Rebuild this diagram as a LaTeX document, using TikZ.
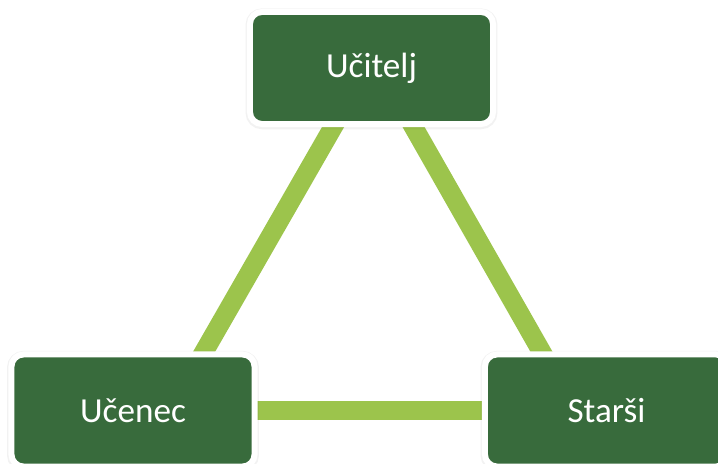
\documentclass[tikz,border=0pt]{standalone}
\usepackage{fontspec}
\setmainfont{Carlito}
\usetikzlibrary{calc,backgrounds}
\definecolor{boxgreen}{HTML}{386B3C}
\definecolor{linkgreen}{HTML}{9CC44C}
\tikzset{
  rolebox/.style={draw=white, line width=0.15cm, outer sep=0pt, fill=boxgreen,
    rounded corners=0.3cm, minimum width=6.075cm, minimum height=2.8cm,
    text=white, font=\fontsize{25}{30}\selectfont,
    preaction={draw=black, draw opacity=0.05, line width=0.22cm, transform canvas={yshift=-0.6pt}}},
  rolelink/.style={draw=linkgreen, line width=0.48cm, shorten <=-0.3cm, shorten >=-0.3cm}
}
\begin{document}
\begin{tikzpicture}[x=0.025cm,y=-0.025cm]
\path [use as bounding box, clip] (0,0) rectangle (718,464);
\node [rolebox] (ucitelj) at (371.5,68) {Učitelj};
\node [rolebox] (ucenec) at (133,410.5) {Učenec};
\node [rolebox] (starsi) at (606.5,410.5) {Starši};
\begin{scope}[on background layer]
\draw [rolelink] ($(ucitelj.south west)!0.349!(ucitelj.south east)$) -- ($(ucenec.north west)!0.786!(ucenec.north east)$);
\draw [rolelink] ($(ucitelj.south west)!0.666!(ucitelj.south east)$) -- ($(starsi.north west)!0.239!(starsi.north east)$);
\draw [rolelink] (ucenec.east) -- (starsi.west);
\end{scope}
\end{tikzpicture}
\end{document}
